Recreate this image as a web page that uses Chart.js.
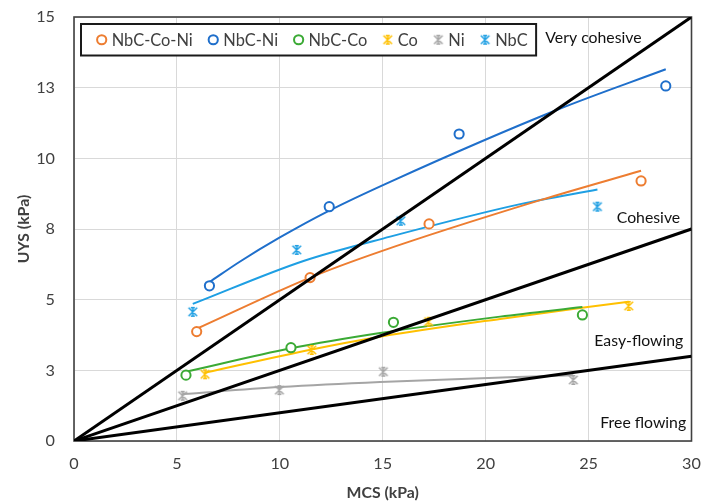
<!DOCTYPE html>
<html><head><meta charset="utf-8">
<script src="https://cdn.jsdelivr.net/npm/chart.js@4.4.0/dist/chart.umd.min.js"></script>
<style>html,body{margin:0;padding:0;background:#fff;overflow:hidden}canvas{display:block}</style>
</head><body><canvas id="c" width="701" height="504"></canvas>
<script>
// ---------------- data ----------------
const seriesNames = ['NbC-Co-Ni', 'NbC-Ni', 'NbC-Co', 'Co', 'Ni', 'NbC'];

const nbcCoNiX = [5.96, 11.47, 17.25, 27.55];
const nbcCoNiY = [3.87, 5.78, 7.68, 9.20];
const nbcNiX   = [6.58, 12.40, 18.71, 28.75];
const nbcNiY   = [5.49, 8.29, 10.86, 12.56];
const nbcCoX   = [5.44, 10.54, 15.52, 24.70];
const nbcCoY   = [2.33, 3.30, 4.20, 4.46];
const coX      = [6.37, 11.55, 17.23, 26.95];
const coY      = [2.36, 3.22, 4.22, 4.78];
const niX      = [5.28, 9.98, 15.03, 24.26];
const niY      = [1.60, 1.80, 2.45, 2.16];
const nbcX     = [5.77, 10.82, 15.88, 25.43];
const nbcY     = [4.57, 6.76, 7.79, 8.29];

// trend lines
const trendNbcCoNiX = [5.96, 11.47, 14.87, 22.65, 27.55];
const trendNbcCoNiY = [3.97, 5.78, 6.70, 8.52, 9.56];
const trendNbcNiX   = [6.58, 8.07, 10.0, 12.4, 15.36, 23.45, 28.75];
const trendNbcNiY   = [5.62, 6.35, 7.20, 8.15, 9.17, 11.71, 13.15];
const trendNbcCoX   = [5.44, 10.54, 14.87, 20.7, 24.7];
const trendNbcCoY   = [2.45, 3.28, 3.82, 4.40, 4.74];
const trendCoX      = [6.37, 11.55, 14.87, 20.7, 26.95];
const trendCoY      = [2.42, 3.24, 3.69, 4.32, 4.93];
const trendNiX      = [5.28, 10.0, 14.87, 24.26];
const trendNiY      = [1.66, 1.91, 2.09, 2.33];
const trendNbcX     = [5.77, 11.15, 15.36, 21.68, 25.43];
const trendNbcY     = [4.85, 6.37, 7.23, 8.38, 8.90];

// flowability boundary lines: from the origin to MCS = 30
const boundaryX    = [0, 30];
const boundaryEndY = [15, 7.5, 3];

const regionNames = ['Very cohesive', 'Cohesive', 'Easy-flowing', 'Free flowing'];
const regionMcs   = [22.9, 29.45, 29.6, 29.74];
const regionUys   = [14.25, 7.9, 3.55, 0.63];

const xTickLabels = ['0', '5', '10', '15', '20', '25', '30'];
const yTickLabels = ['0', '3', '5', '8', '10', '13', '15'];

// ---------------- styles ----------------
const colors  = ['#ED7D31', '#1F6FCB', '#3BAA35', '#FFC000', '#A5A5A5', '#1E9FE3'];
const markers = ['circle', 'circle', 'circle', 'star', 'star', 'star'];
const pointsX = [nbcCoNiX, nbcNiX, nbcCoX, coX, niX, nbcX];
const pointsY = [nbcCoNiY, nbcNiY, nbcCoY, coY, niY, nbcY];
const trendsX = [trendNbcCoNiX, trendNbcNiX, trendNbcCoX, trendCoX, trendNiX, trendNbcX];
const trendsY = [trendNbcCoNiY, trendNbcNiY, trendNbcCoY, trendCoY, trendNiY, trendNbcY];

const FONT = 'Lato, "Open Sans", sans-serif';
const mc = document.createElement('canvas').getContext('2d');
mc.font = '100px ' + FONT;
const ratio = (63.3 / 17.33) / (mc.measureText('Cohesive').width / 100);
const sz = px => Math.round(px * ratio * 10) / 10;
const legendSize = Math.round(81 / (mc.measureText('NbC-Co-Ni').width / 100) * 10) / 10;

function zip(xs, ys) { return xs.map((x, i) => ({x: x, y: ys[i]})); }

function starImg(color) {
  const c = document.createElement('canvas'); c.width = 14; c.height = 14;
  const g = c.getContext('2d'); g.strokeStyle = color; g.lineWidth = 1.5;
  const m = 7, r = 4.3;
  g.beginPath();
  g.moveTo(m - r, m - r); g.lineTo(m + r, m + r);
  g.moveTo(m - r, m + r); g.lineTo(m + r, m - r);
  g.moveTo(m, m - r - 0.4); g.lineTo(m, m + r + 0.4);
  g.moveTo(m - 2, m - r); g.lineTo(m + 2, m - r);
  g.moveTo(m - 2, m + r); g.lineTo(m + 2, m + r);
  g.stroke();
  return c;
}
const starImgs = colors.map(starImg);

const datasets = [];
// boundaries (on top)
boundaryEndY.forEach((v, i) => datasets.push({
  label: 'boundary' + i, data: zip(boundaryX, [0, v]), showLine: true,
  borderColor: '#000', borderWidth: 3, pointRadius: 0, order: 0, isAux: true
}));
// markers
seriesNames.forEach((n, i) => datasets.push({
  label: n, data: zip(pointsX[i], pointsY[i]), showLine: false,
  pointStyle: markers[i] === 'circle' ? 'circle' : starImgs[i],
  pointRadius: 4.6, borderWidth: 2, borderColor: colors[i], backgroundColor: '#fff',
  order: 1
}));
// trend lines
seriesNames.forEach((n, i) => datasets.push({
  label: n + ' trend', data: zip(trendsX[i], trendsY[i]), showLine: true,
  cubicInterpolationMode: 'monotone', borderColor: colors[i], borderWidth: 2,
  pointRadius: 0, order: 2, isAux: true
}));

const decor = {
  id: 'decor',
  beforeDatasetsDraw(chart) {
    const {ctx, chartArea: a} = chart;
    ctx.save();
    ctx.strokeStyle = '#404040'; ctx.lineWidth = 1.6;
    ctx.strokeRect(a.left, a.top, a.right - a.left, a.bottom - a.top);
    ctx.restore();
  },
  afterDatasetsDraw(chart) {
    const {ctx, chartArea: a, scales: {x, y}} = chart;
    ctx.save();
    // region labels
    ctx.fillStyle = '#111';
    ctx.font = sz(17.33) + 'px ' + FONT;
    ctx.textBaseline = 'middle';
    regionNames.forEach((t, i) => {
      ctx.textAlign = i === 0 ? 'left' : 'right';
      ctx.fillText(t, x.getPixelForValue(regionMcs[i]), y.getPixelForValue(regionUys[i]));
    });
    // legend box
    ctx.font = legendSize + 'px ' + FONT;
    const bx = a.left + 7, by = a.top + 7, bh = 31.5;
    const items = chart.data.datasets.filter(d => !d.isAux);
    let w = 20.7;
    const widths = items.map(d => ctx.measureText(d.label).width);
    widths.forEach((tw, i) => { w += 10 + tw + (i < widths.length - 1 ? 20.5 : 8.5); });
    ctx.fillStyle = '#fff';
    ctx.fillRect(bx, by, w, bh);
    ctx.strokeStyle = '#1a1a1a'; ctx.lineWidth = 2;
    ctx.strokeRect(bx, by, w, bh);
    let cx = bx + 20.7;
    const cy = by + bh / 2;
    items.forEach((d, i) => {
      const idx = seriesNames.indexOf(d.label);
      if (markers[idx] === 'circle') {
        ctx.beginPath(); ctx.arc(cx, cy, 4.6, 0, Math.PI * 2);
        ctx.fillStyle = '#fff'; ctx.fill();
        ctx.strokeStyle = colors[idx]; ctx.lineWidth = 2; ctx.stroke();
      } else {
        const im = starImgs[idx];
        ctx.drawImage(im, cx - im.width / 2, cy - im.height / 2);
      }
      ctx.fillStyle = '#404040'; ctx.textAlign = 'left'; ctx.textBaseline = 'middle';
      ctx.fillText(d.label, cx + 10, cy + 1);
      cx += 10 + widths[i] + 20.5;
    });
    ctx.restore();
  }
};

function noPad(s) { s.paddingTop = 0; s.paddingBottom = 0; s.paddingLeft = 0; s.paddingRight = 0; }

new Chart(document.getElementById('c'), {
  type: 'scatter',
  data: {datasets: datasets},
  plugins: [decor],
  options: {
    responsive: false, animation: false, devicePixelRatio: 1,
    layout: {autoPadding: false, padding: {top: 17, right: 9.5, left: 0, bottom: 0}},
    plugins: {legend: {display: false}, tooltip: {enabled: false}},
    scales: {
      x: {
        type: 'linear', min: 0, max: 30,
        ticks: {stepSize: 5, padding: 13, color: '#404040', font: {family: FONT, size: sz(17.8)},
                callback: (v, i) => xTickLabels[i]},
        grid: {color: '#D9D9D9', lineWidth: 1, drawTicks: false},
        border: {display: false},
        title: {display: true, text: 'MCS (kPa)', color: '#404040',
                font: {family: FONT, size: sz(17.33), weight: 'bold'}, padding: {top: 0, bottom: 2}},
        afterFit(s) { s.height = 63; noPad(s); }
      },
      y: {
        type: 'linear', min: 0, max: 15,
        ticks: {stepSize: 2.5, padding: 19, color: '#404040', font: {family: FONT, size: sz(17.8)},
                callback: (v, i) => yTickLabels[i]},
        grid: {color: '#D9D9D9', lineWidth: 1, drawTicks: false},
        border: {display: false},
        title: {display: true, text: 'UYS (kPa)', color: '#404040',
                font: {family: FONT, size: sz(17.33), weight: 'bold'}, padding: {top: 14, bottom: 0}},
        afterFit(s) { s.width = 74; noPad(s); }
      }
    }
  }
});
</script>
</body></html>
